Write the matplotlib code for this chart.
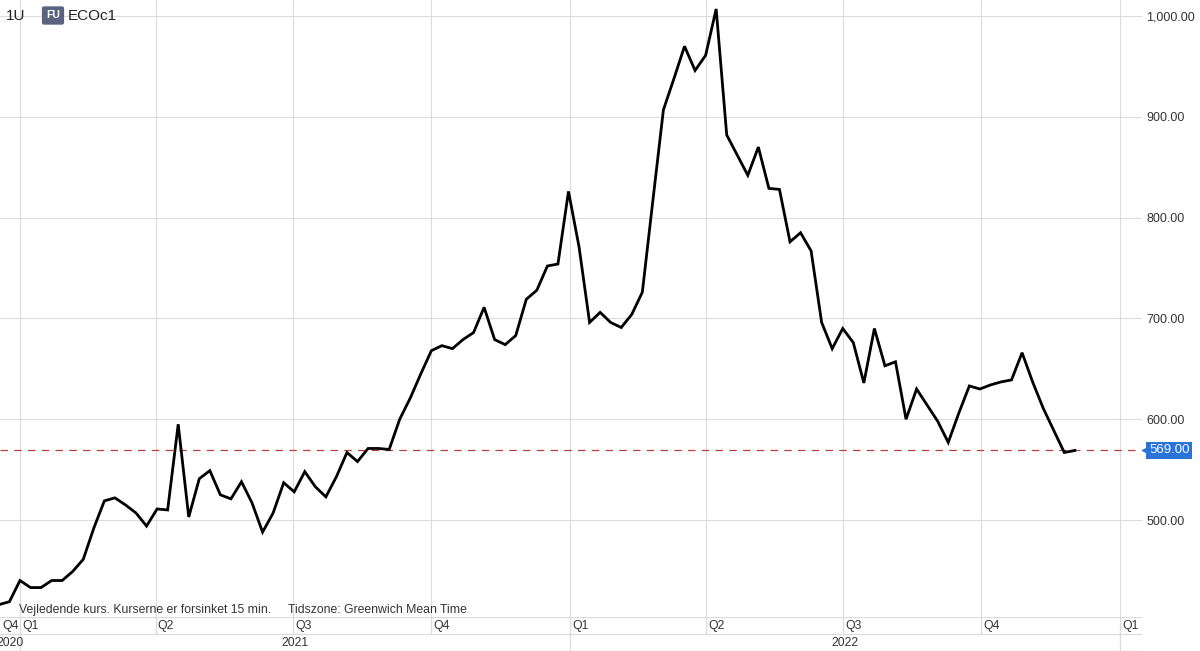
import numpy as np
import pandas as pd
import matplotlib
matplotlib.use("Agg")
import matplotlib.pyplot as plt
import matplotlib.dates as mdates
from matplotlib.ticker import FuncFormatter
from matplotlib.transforms import blended_transform_factory

plt.rcParams["font.family"] = ["Liberation Sans", "DejaVu Sans"]

# weekly closes, ECOc1, first value on 18 Dec 2020
first_date = "2020-12-18"
prices = [
    416, 419, 440, 433, 433, 440, 440, 449, 461, 492,
    519, 522, 515, 507, 494, 511, 510, 595, 503, 541,
    549, 525, 521, 538, 517, 488, 507, 537, 528, 548,
    533, 523, 543, 567, 558, 571, 571, 570, 600, 621,
    645, 668, 673, 670, 679, 686, 711, 679, 674, 683,
    719, 728, 752, 754, 826, 771, 696, 706, 696, 691,
    704, 726, 817, 907, 938, 970, 946, 961, 1007, 882,
    862, 842, 870, 829, 828, 776, 785, 767, 696, 670,
    690, 676, 636, 690, 653, 657, 600, 630, 614, 598,
    577, 606, 633, 630, 634, 637, 639, 666, 637, 611,
    589, 567, 569,
]
last_price = 569.0
price_ticks = [500, 600, 700, 800, 900, 1000]
quarter_names = ["Q4", "Q1", "Q2", "Q3", "Q4", "Q1", "Q2", "Q3", "Q4", "Q1"]
year_names = ["2020", "2021", "2022"]

dates = pd.date_range(first_date, periods=len(prices), freq="7D")
quarter_starts = pd.date_range("2020-10-01", "2023-01-01", freq="QS")
year_starts = pd.to_datetime(["2020-01-01", "2021-01-01", "2022-01-01", "2023-01-01"])

W, H = 1200, 651
fig = plt.figure(figsize=(W / 100, H / 100), dpi=100)
fig.patch.set_facecolor("white")

ax_w = 1142 / W
ax = fig.add_axes([0, 34 / H, ax_w, 617 / H])
axb = fig.add_axes([0, 0, ax_w, 34 / H])

x0 = mdates.date2num(pd.Timestamp("2020-12-18 18:00"))
x1 = mdates.date2num(pd.Timestamp("2023-01-15 14:00"))
GRID = "#dcdcdc"
TXT = "#333333"

ax.set_xticks(mdates.date2num(quarter_starts))
ax.set_yticks(price_ticks)
ax.set_xlim(x0, x1)
ax.set_ylim(403.8, 1015.9)
ax.grid(True, color=GRID, linewidth=0.8)
ax.set_axisbelow(True)
for s in ax.spines.values():
    s.set_visible(False)
ax.tick_params(axis="x", length=0, labelbottom=False)
ax.yaxis.tick_right()
ax.tick_params(axis="y", length=0, pad=3, labelsize=9, labelcolor=TXT)
ax.yaxis.set_major_formatter(FuncFormatter(lambda v, p: f"{v:,.2f}"))

ax.axhline(last_price, color="#b5423f", linewidth=0.9, linestyle=(0, (6, 5)), zorder=2)
ax.plot(mdates.date2num(dates), prices, color="black", linewidth=2.0,
        solid_joinstyle="miter", zorder=3)

tr = blended_transform_factory(ax.transAxes, ax.transData)
ax.plot([1.0 + 4 / 1142], [last_price], marker="<", ms=6, color="#2a74d8",
        transform=tr, clip_on=False, zorder=5)
ax.text(1.0 + 7 / 1142, last_price, f"{last_price:,.2f}", transform=tr,
        color="white", fontsize=9.5, va="center", ha="left",
        bbox=dict(boxstyle="square,pad=0.2", fc="#2a74d8", ec="none"))

# bottom date band
axb.set_xlim(x0, x1)
axb.set_ylim(0, 2)
axb.axis("off")
for yy in (2, 1, 0.02):
    axb.axhline(yy, color=GRID, linewidth=0.9)
qnum = mdates.date2num(quarter_starts)
axb.vlines(qnum, 1, 2, color=GRID, linewidth=0.9)
ynum = mdates.date2num(year_starts)
axb.vlines(ynum, 0, 1, color=GRID, linewidth=0.9)
pad_days = 1.5
for q, name in zip(qnum, quarter_names):
    xq = max(q, x0)
    axb.text(xq + pad_days, 1.5, name, fontsize=8.8, color=TXT, va="center", ha="left")
for i, name in enumerate(year_names):
    a = max(ynum[i], x0)
    b = min(ynum[i + 1], x1)
    axb.text((a + b) / 2, 0.5, name, fontsize=8.8, color=TXT, va="center", ha="center")

# header
fig.text(6 / W, 1 - 16 / H, "1U", fontsize=11, color="#222222", va="center", ha="left")
fig.text(53 / W, 1 - 15.5 / H, "FU", fontsize=7.5, fontweight="bold", color="white",
         va="center", ha="center",
         bbox=dict(boxstyle="round,pad=0.4,rounding_size=0.2", fc="#5a6480", ec="none"))
fig.text(68 / W, 1 - 16 / H, "ECOc1", fontsize=11, color="#222222", va="center", ha="left")

# footnote
fig.text(19 / W, 1 - 610 / H, "Vejledende kurs. Kurserne er forsinket 15 min.",
         fontsize=8.8, color=TXT, va="center", ha="left")
fig.text(288 / W, 1 - 610 / H, "Tidszone: Greenwich Mean Time",
         fontsize=8.8, color=TXT, va="center", ha="left")

fig.savefig("out.png", dpi=100)
